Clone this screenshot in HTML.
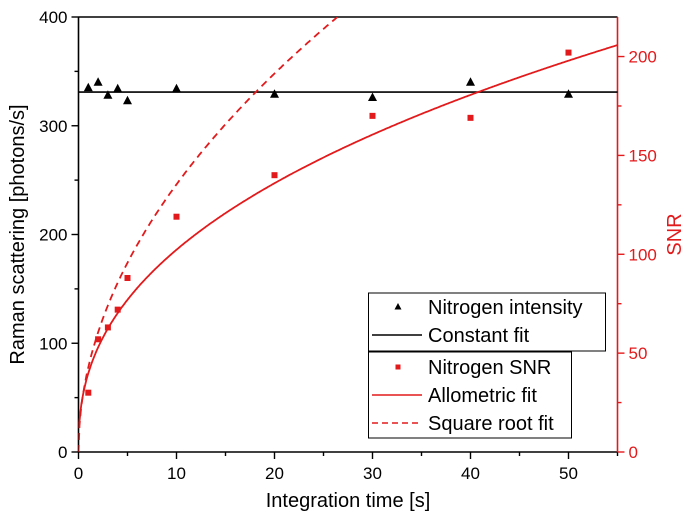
<!DOCTYPE html>
<html><head><meta charset="utf-8"><style>
body{margin:0;background:#fff}
svg{display:block;font-family:"Liberation Sans",Arial,sans-serif}
</style></head><body>
<svg id="c" width="688" height="528"></svg>
<script>
const xCats=[1,2,3,4,5,10,20,30,40,50];
const intensity=[335,340,328,334,323,334,329,326,340,329];
const snr=[30,57,63,72,88,119,140,170,169,202];
const constFit=[331];
const alloParams=[39.8,0.41];
const sqrtParams=[42.8];
const xTicks=[0,10,20,30,40,50];
const yTicks=[0,100,200,300,400];
const y2Ticks=[0,50,100,150,200];

const NS='http://www.w3.org/2000/svg';
const svg=document.getElementById('c');
const L=78.5,R=617.5,T=17,B=452;
const X=v=>L+(v/55)*(R-L);
const Y=v=>B-(v/400)*(B-T);
const Y2=v=>B-(v/220)*(B-T);
function mk(t,a,p){const e=document.createElementNS(NS,t);for(const k in a)e.setAttribute(k,a[k]);(p||svg).appendChild(e);return e;}

let e;
e=mk('line',{x1:L,y1:T,x2:L,y2:B,stroke:'#000','stroke-width':1.6});


e=mk('line',{x1:L,y1:B,x2:R,y2:B,stroke:'#000','stroke-width':1.6});


e=mk('line',{x1:L,y1:T,x2:R,y2:T,stroke:'#000','stroke-width':1.6});


e=mk('line',{x1:R,y1:T,x2:R,y2:B,stroke:'#e31a1c','stroke-width':1.6});



xTicks.forEach((v,i)=>{
  mk('line',{x1:X(v),y1:B,x2:X(v),y2:B+7,stroke:'#000','stroke-width':1.4});
  mk('line',{x1:X(v+5),y1:B,x2:X(v+5),y2:B+4,stroke:'#000','stroke-width':1.4});
  e=mk('text',{x:X(v),y:B+27,'text-anchor':'middle','font-size':17});e.textContent=v;
  
  
});
yTicks.forEach((v,i)=>{
  mk('line',{x1:L,y1:Y(v),x2:L-7,y2:Y(v),stroke:'#000','stroke-width':1.4});
  if(i<yTicks.length-1)mk('line',{x1:L,y1:Y(v+50),x2:L-4,y2:Y(v+50),stroke:'#000','stroke-width':1.4});
  e=mk('text',{x:L-11,y:Y(v)+6,'text-anchor':'end','font-size':17});e.textContent=v;
  
  
});
y2Ticks.forEach((v,i)=>{
  mk('line',{x1:R,y1:Y2(v),x2:R+7,y2:Y2(v),stroke:'#e31a1c','stroke-width':1.4});
  if(i<y2Ticks.length-1)mk('line',{x1:R,y1:Y2(v+25),x2:R+4,y2:Y2(v+25),stroke:'#e31a1c','stroke-width':1.4});
  e=mk('text',{x:R+11,y:Y2(v)+6,'font-size':17,fill:'#e31a1c'});e.textContent=v;
  
  
});
e=mk('text',{x:(L+R)/2,y:507,'text-anchor':'middle','font-size':20});e.textContent='Integration time [s]';


e=mk('text',{x:0,y:0,'text-anchor':'middle','font-size':20,transform:`translate(24,${(T+B)/2}) rotate(-90)`});e.textContent='Raman scattering [photons/s]';


e=mk('text',{x:0,y:0,'text-anchor':'middle','font-size':20,fill:'#e31a1c',transform:`translate(681,${(T+B)/2}) rotate(-90)`});e.textContent='SNR';



const clip=mk('clipPath',{id:'pc'});mk('rect',{x:L,y:T,width:R-L,height:B-T},clip);
const g=mk('g',{'clip-path':'url(#pc)'});

e=mk('line',{x1:L,y1:Y(constFit[0]),x2:R,y2:Y(constFit[0]),stroke:'#000','stroke-width':1.6},g);



let pa='',ps='';
for(let i=0;i<=550;i++){const x=i/10;
  pa+=(i?'L':'M')+X(x).toFixed(1)+','+Y2(alloParams[0]*Math.pow(x,alloParams[1])+ (x===0?12:0)).toFixed(1);
  ps+=(i?'L':'M')+X(x).toFixed(1)+','+Y2(sqrtParams[0]*Math.sqrt(x)).toFixed(1);}
e=mk('path',{d:pa,fill:'none',stroke:'#e31a1c','stroke-width':1.8},g);


e=mk('path',{d:ps,fill:'none',stroke:'#e31a1c','stroke-width':1.8,'stroke-dasharray':'7,5'},g);



xCats.forEach((x,i)=>{
  const cx=X(x),cy=Y(intensity[i]);
  e=mk('polygon',{points:`${cx},${cy-5} ${cx-4.5},${cy+3.5} ${cx+4.5},${cy+3.5}`,fill:'#000'});
  
  
  e=mk('rect',{x:cx-3,y:Y2(snr[i])-3,width:6,height:6,fill:'#e31a1c'});
  
  
});

const lg=mk('g',{});


mk('rect',{x:368.5,y:293,width:237,height:58,fill:'#fff',stroke:'#000','stroke-width':1},lg);
mk('rect',{x:368.5,y:352,width:203,height:86,fill:'#fff',stroke:'#000','stroke-width':1},lg);
const items=[['tri','Nitrogen intensity',307],['line','Constant fit',335],['sq','Nitrogen SNR',367],['rline','Allometric fit',395],['dash','Square root fit',423]];
items.forEach(([k,t,y])=>{
  if(k==='tri')mk('polygon',{points:`398,${y-4} 394.5,${y+2.5} 401.5,${y+2.5}`,fill:'#000'},lg);
  if(k==='sq')mk('rect',{x:395.5,y:y-2.5,width:5,height:5,fill:'#e31a1c'},lg);
  if(k==='line')mk('line',{x1:372,y1:y,x2:422,y2:y,stroke:'#000','stroke-width':1.6},lg);
  if(k==='rline')mk('line',{x1:372,y1:y,x2:422,y2:y,stroke:'#e31a1c','stroke-width':1.6},lg);
  if(k==='dash')mk('line',{x1:372,y1:y,x2:422,y2:y,stroke:'#e31a1c','stroke-width':1.6,'stroke-dasharray':'6,4'},lg);
  const tx=mk('text',{x:428,y:y+7,'font-size':20},lg);tx.textContent=t;
  
  
});
</script>
</body></html>
